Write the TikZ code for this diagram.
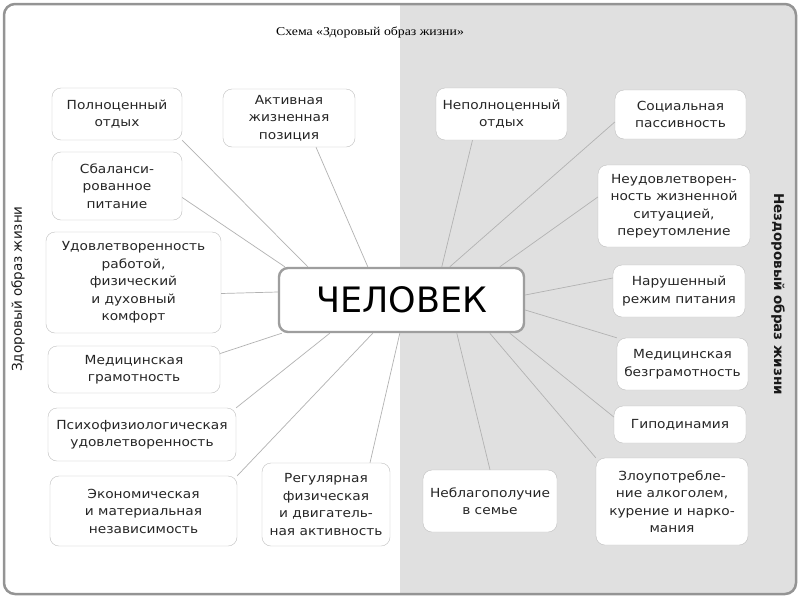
\documentclass[tikz,border=0pt]{standalone}
\usepackage{fontspec}
\setmainfont{DejaVu Sans}
\newfontfamily\boxfont[FakeStretch=1.1]{DejaVu Sans}
\newfontfamily\titlefont[FakeStretch=1.15]{Liberation Serif}

\begin{document}
\begin{tikzpicture}[
        x=1pt, y=-1pt,
        healthy_node/.style={draw=black!25, rectangle, rounded corners=9pt, align=center, fill=white, text=black!85, inner sep=2pt, font=\boxfont\fontsize{12.5}{17.5}\selectfont},
        unhealthy_node/.style={healthy_node},
        man_node/.style={draw=black!38, rectangle, rounded corners=9pt, minimum width=245pt, minimum height=64pt, fill=white, line width=2.4pt, font=\fontsize{35}{35}\selectfont},
        side_label/.style={font=\fontsize{13.5}{16}\selectfont, text=black!90},
        link/.style={draw=black!30, line width=0.7pt}
    ]
        \useasboundingbox (0,0) rectangle (800,600);

        % Background
        \begin{scope}
            \clip [rounded corners=11pt] (4,4) rectangle (796,594);
            \fill [white] (0,0) rectangle (400,600);
            \fill [black!12] (400,0) rectangle (800,600);
        \end{scope}
        \draw [draw=black!42, line width=2.5pt, rounded corners=11pt] (4,4) rectangle (796,594);

        % Titles
        \node (title) at (370,32) [font=\titlefont\fontsize{12}{14}\selectfont] {Схема «Здоровый образ жизни»};
        \node (healthy_label) at (18,289) [rotate=90, side_label] {Здоровый образ жизни};
        \node (unhealthy_label) at (778,294) [rotate=-90, side_label, font=\fontsize{13.5}{16}\selectfont\bfseries] {Нездоровый образ жизни};

        % Nodes
        \node (man) at (401.5,300) [man_node] {ЧЕЛОВЕК};

        \node (full) at (117,114) [healthy_node, minimum width=130pt, minimum height=52pt] {Полноценный\\отдых};
        \node (active) at (289,118) [healthy_node, minimum width=132pt, minimum height=58pt] {Активная\\жизненная\\позиция};
        \node (balanced) at (117,186) [healthy_node, minimum width=130pt, minimum height=68pt] {Сбаланси-\\рованное\\питание};
        \node (satisfied) at (133.5,282.5) [healthy_node, minimum width=175pt, minimum height=101pt] {Удовлетворенность\\работой,\\физический\\и духовный\\комфорт};
        \node (medliteracy) at (134,369.5) [healthy_node, minimum width=172pt, minimum height=47pt] {Медицинская\\грамотность};
        \node (psycho) at (142,434.5) [healthy_node, minimum width=188pt, minimum height=53pt] {Психофизиологическая\\удовлетворенность};
        \node (economic) at (143.5,511) [healthy_node, minimum width=187pt, minimum height=70pt] {Экономическая\\и материальная\\независимость};
        \node (regular) at (326,504.5) [healthy_node, minimum width=128pt, minimum height=83pt] {Регулярная\\физическая\\и двигатель-\\ная активность};

        \node (incomplete) at (501.5,114) [unhealthy_node, minimum width=131pt, minimum height=52pt] {Неполноценный\\отдых};
        \node (passive) at (680.5,114.5) [unhealthy_node, minimum width=131pt, minimum height=49pt] {Социальная\\пассивность};
        \node (dissatisfied) at (674,206) [unhealthy_node, minimum width=152pt, minimum height=82pt] {Неудовлетворен-\\ность жизненной\\ситуацией,\\переутомление};
        \node (diet) at (679,291) [unhealthy_node, minimum width=132pt, minimum height=52pt] {Нарушенный\\режим питания};
        \node (medilliteracy) at (682.5,364) [unhealthy_node, minimum width=131pt, minimum height=52pt] {Медицинская\\безграмотность};
        \node (hypodynamia) at (680,424.5) [unhealthy_node, minimum width=132pt, minimum height=37pt] {Гиподинамия};
        \node (family) at (490,501) [unhealthy_node, minimum width=134pt, minimum height=62pt] {Неблагополучие\\в семье};
        \node (abuse) at (672,501.5) [unhealthy_node, minimum width=152pt, minimum height=87pt] {Злоупотребле-\\ние алкоголем,\\курение и нарко-\\мания};

        % Lines
        \draw [link] (full.south east) -- ([xshift=30pt]man.north west);
        \draw [link] (balanced.-10) -- ([xshift=7pt]man.north west);
        \draw [link] ([xshift=27pt]active.south) -- ([xshift=90pt]man.north west);
        \draw [link] ([yshift=-11pt]satisfied.east) -- ([yshift=8pt]man.west);
        \draw [link] ([yshift=16pt]medliteracy.east) -- ([xshift=4pt]man.south west);
        \draw [link] (psycho.north east) -- ([xshift=52pt]man.south west);
        \draw [link] (economic.north east) -- ([xshift=95pt]man.south west);
        \draw [link] ([xshift=44pt]regular.north) -- ([xshift=122pt]man.south west);

        \draw [link] ([xshift=-29pt]incomplete.south) -- ([xshift=164pt]man.north west);
        \draw [link] ([yshift=-7.5pt]passive.west) -- ([xshift=172pt]man.north west);
        \draw [link] ([yshift=9pt]dissatisfied.west) -- ([xshift=222pt]man.north west);
        \draw [link] ([yshift=13pt]diet.west) -- ([yshift=5pt]man.east);
        \draw [link] (medilliteracy.north west) -- ([yshift=-10pt]man.east);
        \draw [link] ([yshift=7.5pt]hypodynamia.west) -- ([xshift=232pt]man.south west);
        \draw [link] (abuse.north west) -- ([xshift=212pt]man.south west);
        \draw [link] (family.north) -- ([xshift=179pt]man.south west);
    \end{tikzpicture}
\end{document}
